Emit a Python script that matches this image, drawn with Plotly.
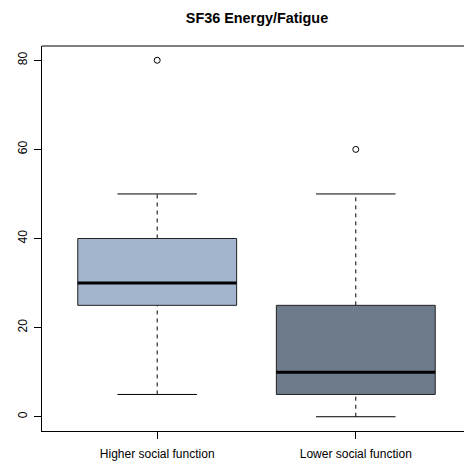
import plotly.graph_objects as go

groups = ["Higher social function", "Lower social function"]
lower_whisker = [5, 0]
q1 = [25, 5]
median = [30, 10]
q3 = [40, 25]
upper_whisker = [50, 50]
outliers = [[80], [60]]
fill_colors = ["#A2B5CD", "#6E7B8B"]
y_ticks = [0, 20, 40, 60, 80]

BOX_HALF = 0.4
CAP_HALF = 0.2
FONT = "Liberation Sans, Arial, Helvetica, sans-serif"

fig = go.Figure()
for i, g in enumerate(groups):
    c = i + 1
    # whiskers (dashed)
    fig.add_trace(go.Scatter(x=[c, c], y=[q3[i], upper_whisker[i]], mode="lines",
                             line=dict(color="black", width=1, dash="4px,4px"), hoverinfo="skip"))
    fig.add_trace(go.Scatter(x=[c, c], y=[lower_whisker[i], q1[i]], mode="lines",
                             line=dict(color="black", width=1, dash="4px,4px"), hoverinfo="skip"))
    # caps
    fig.add_trace(go.Scatter(x=[c - CAP_HALF, c + CAP_HALF], y=[upper_whisker[i]] * 2, mode="lines",
                             line=dict(color="black", width=1), hoverinfo="skip"))
    fig.add_trace(go.Scatter(x=[c - CAP_HALF, c + CAP_HALF], y=[lower_whisker[i]] * 2, mode="lines",
                             line=dict(color="black", width=1), hoverinfo="skip"))
    # box
    fig.add_trace(go.Scatter(x=[c - BOX_HALF, c + BOX_HALF, c + BOX_HALF, c - BOX_HALF, c - BOX_HALF],
                             y=[q1[i], q1[i], q3[i], q3[i], q1[i]], mode="lines", fill="toself",
                             fillcolor=fill_colors[i], line=dict(color="#222222", width=1),
                             hoverinfo="skip"))
    # median
    fig.add_trace(go.Scatter(x=[c - BOX_HALF, c + BOX_HALF], y=[median[i]] * 2, mode="lines",
                             line=dict(color="black", width=3), hoverinfo="skip"))
    # outliers
    fig.add_trace(go.Scatter(x=[c] * len(outliers[i]), y=outliers[i], mode="markers",
                             marker=dict(symbol="circle-open", size=6, color="black",
                                         line=dict(width=1, color="black")),
                             hoverinfo="skip"))

fig.add_shape(type="line", xref="paper", yref="paper", x0=0, x1=1, y0=1, y1=1,
              line=dict(color="black", width=1))

fig.update_layout(
    width=464, height=464,
    margin=dict(l=42, r=0, t=46, b=33),
    plot_bgcolor="white", paper_bgcolor="white",
    showlegend=False,
    font=dict(family=FONT, size=12, color="black"),
    title=dict(text="<b>SF36 Energy/Fatigue</b>", x=257 / 464,
               xanchor="center", y=1 - 18 / 464, yanchor="middle", yref="container",
               font=dict(family=FONT, size=14.4, color="black")),
    xaxis=dict(range=[0.42, 0.42 + 422 / 198.6], tickvals=[1, 2], ticktext=groups,
               showgrid=False, zeroline=False, showline=True, linecolor="black", linewidth=1,
               ticks="outside", ticklen=7, tickcolor="black", tickwidth=1,
               ticklabelstandoff=5),
    yaxis=dict(range=[-3.2, 83.2], tickvals=y_ticks, showgrid=False, zeroline=False,
               showline=True, linecolor="black", linewidth=1, ticks="outside", ticklen=7,
               tickcolor="black", tickwidth=1, tickangle=-90, ticklabelstandoff=2),
)

fig.write_html("out.html")
